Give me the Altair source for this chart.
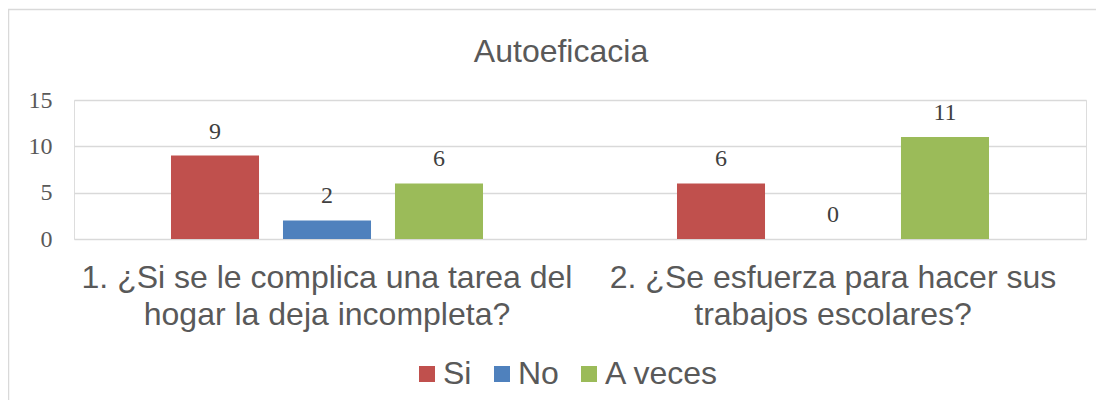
import altair as alt
import pandas as pd

categories = [
    "1. ¿Si se le complica una tarea del\nhogar la deja incompleta?",
    "2. ¿Se esfuerza para hacer sus\ntrabajos escolares?",
]
series = ["Si", "No", "A veces"]
values = {
    "Si": [9, 6],
    "No": [2, 0],
    "A veces": [6, 11],
}
colors = ["#C0504D", "#4F81BD", "#9BBB59"]

rows = []
for s in series:
    for i, c in enumerate(categories):
        rows.append({"Pregunta": c, "Respuesta": s, "Valor": values[s][i]})
df = pd.DataFrame(rows)

W, H = 1012, 139
TEXT = "#595959"
SANS = "Liberation Sans"
SERIF = "Liberation Serif"

x_enc = alt.X(
    "Pregunta:N",
    sort=categories,
    scale=alt.Scale(paddingInner=0, paddingOuter=0),
    axis=alt.Axis(
        title=None,
        labelAngle=0,
        labelFont=SANS,
        labelFontSize=32,
        labelColor=TEXT,
        labelLineHeight=37,
        labelPadding=23,
        labelExpr="split(datum.label, '\\n')",
        domain=False,
        ticks=False,
        labelLimit=600,
    ),
)
xo_enc = alt.XOffset(
    "Respuesta:N",
    sort=series,
    scale=alt.Scale(paddingInner=0.214, paddingOuter=0.866),
)
y_enc = alt.Y(
    "Valor:Q",
    scale=alt.Scale(domain=[0, 15], nice=False),
    axis=alt.Axis(
        title=None,
        values=[0, 5, 10, 15],
        labelFont=SERIF,
        labelFontSize=24,
        labelColor=TEXT,
        labelPadding=22,
        domain=False,
        ticks=False,
        gridColor="#d9d9d9",
        gridWidth=1.5,
    ),
)
color_enc = alt.Color(
    "Respuesta:N",
    sort=series,
    scale=alt.Scale(domain=series, range=colors),
    legend=alt.Legend(
        title=None,
        orient="none",
        direction="horizontal",
        legendX=337,
        legendY=258,
        symbolType="square",
        symbolSize=256,
        symbolStrokeWidth=0,
        labelFont=SANS,
        labelFontSize=32,
        labelColor=TEXT,
        labelOffset=0,
        columnPadding=14,
    ),
)

base = alt.Chart(df)
bars = base.mark_bar().encode(x=x_enc, xOffset=xo_enc, y=y_enc, color=color_enc)
labels = base.mark_text(
    font=SERIF, fontSize=24, color="#404040", dy=-17, baseline="alphabetic"
).encode(x=x_enc, xOffset=xo_enc, y=y_enc, text="Valor:Q")

frame = alt.Chart(pd.DataFrame({"a": [0]})).mark_rect(
    fill=None, stroke="#d9d9d9", strokeWidth=1.5, clip=False
).encode(
    x=alt.value(-65.5), x2=alt.value(W + 40), y=alt.value(-90.5), y2=alt.value(H + 200)
)

chart = (
    alt.layer(frame, bars, labels)
    .properties(
        width=W,
        height=H,
        title=alt.TitleParams(
            "Autoeficacia",
            font=SANS,
            fontSize=32,
            fontWeight="normal",
            color=TEXT,
            anchor="middle",
            baseline="alphabetic",
            offset=-85,
            dx=-19,
        ),
        autosize=alt.AutoSizeParams(type="none"),
        padding={"left": 66, "top": 92, "right": 10, "bottom": 161},
    )
    .configure_view(stroke=None)
    .configure(background="white")
)

chart.save("out.html", embed_options={"renderer": "svg", "actions": False})
